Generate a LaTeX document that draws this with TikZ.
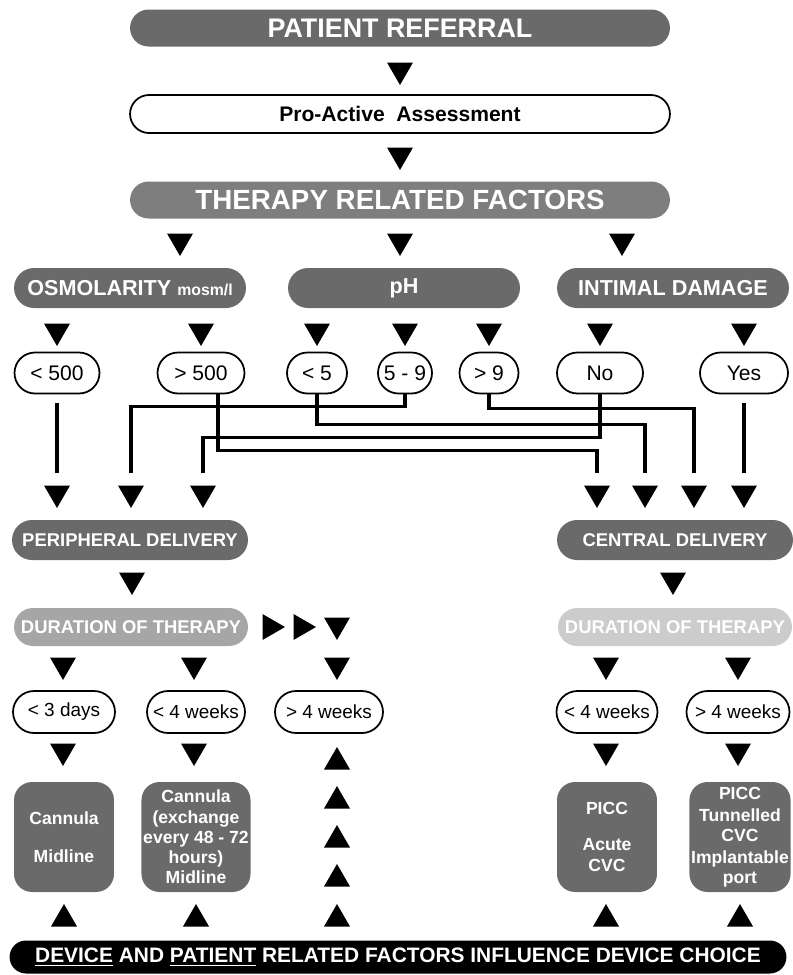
\documentclass[tikz,border=0pt]{standalone}
\usepackage{fontspec}
\setmainfont{Liberation Sans}
\usetikzlibrary{positioning,shapes.geometric,shapes.misc}
\definecolor{pfdark}{RGB}{106,106,106}
\definecolor{pfmid}{RGB}{126,126,126}
\definecolor{pflight}{RGB}{166,166,166}
\definecolor{pfpale}{RGB}{204,204,204}
\tikzset{
  pill/.style={rounded rectangle, inner sep=0pt, align=center},
  greybar/.style={pill, fill=#1, text=white},
  whitebar/.style={pill, draw=black, line width=1pt, fill=white},
  catbar/.style={greybar=pfdark, minimum width=4.64cm, minimum height=0.8cm,
    font=\bfseries\fontsize{12.3}{14}\selectfont},
  delbar/.style={greybar=pfdark, minimum width=4.72cm, minimum height=0.8cm,
    font=\bfseries\fontsize{10.5}{12}\selectfont},
  durbar/.style={greybar=#1, minimum width=4.68cm, minimum height=0.76cm,
    font=\bfseries\fontsize{10.5}{12}\selectfont},
  valbox/.style={whitebar, minimum height=0.82cm, font=\fontsize{12}{14}\selectfont},
  durbox/.style={whitebar, minimum height=0.84cm, font=\fontsize{10.8}{12}\selectfont},
  devbox/.style={rectangle, rounded corners=0.36cm, fill=pfdark, text=white,
    minimum width=2cm, minimum height=2.2cm, align=center, inner sep=1pt,
    font=\bfseries\fontsize{10}{11.5}\selectfont},
  tri/.style={regular polygon, regular polygon sides=3, fill=black,
    minimum size=0.6cm, inner sep=0pt, outer sep=0pt},
  tdn/.style={tri, shape border rotate=180},
  trt/.style={tri, shape border rotate=-90},
  link/.style={line width=2pt}
}

\begin{document}
\begin{tikzpicture}[x=0.02cm, y=-0.02cm]
    \useasboundingbox (0,0) rectangle (793,975);
    % referral, assessment, therapy factors
    \node[greybar=pfdark, minimum width=10.8cm, minimum height=0.74cm,
          font=\bfseries\fontsize{15.3}{18}\selectfont] (referral) at (400,28) {PATIENT REFERRAL};
    \node[tdn] (t1) at (400,70) {};
    \node[whitebar, minimum width=10.8cm, minimum height=0.76cm,
          font=\bfseries\fontsize{12}{14}\selectfont] (assess) at (400,114) {Pro-Active\ \ Assessment};
    \node[tdn] (t2) at (400,155) {};
    \node[greybar=pfmid, minimum width=10.8cm, minimum height=0.74cm,
          font=\bfseries\fontsize{15.8}{18}\selectfont] (therapy) at (400,200) {THERAPY RELATED FACTORS};
    \foreach \xx/\nm in {180/t3, 400/t4, 622/t5}
      \node[tdn] (\nm) at (\xx,241) {};
    % the three factors
    \node[catbar] (osmo) at (130,288) {OSMOLARITY {\fontsize{9}{10}\selectfont mosm/l}};
    \node[catbar] (ph) at (404,288) {pH};
    \node[catbar] (intimal) at (673,288) {INTIMAL DAMAGE};
    \foreach \xx/\nm in {57/s1, 201/s2, 317/s3, 405/s4, 489/s5, 600/s6, 744/s7}
      \node[tdn] (\nm) at (\xx,331) {};
    % values
    \node[valbox, minimum width=1.7cm]  (lt500) at (57,373)  {< 500};
    \node[valbox, minimum width=1.74cm] (gt500) at (201,373) {> 500};
    \node[valbox, minimum width=1.2cm]  (lt5)   at (317,373) {< 5};
    \node[valbox, minimum width=1.08cm] (r59)   at (405,373) {5 - 9};
    \node[valbox, minimum width=1.18cm] (gt9)   at (489,373) {> 9};
    \node[valbox, minimum width=1.72cm] (no)    at (600,373) {No};
    \node[valbox, minimum width=1.76cm] (yes)   at (744,373) {Yes};
    % arrows into the two deliveries
    \foreach \xx/\nm in {57/pa1, 131/pa2, 203/pa3}
      \node[tdn] (\nm) at (\xx,493) {};
    \foreach \xx/\nm in {597/pc1, 645/pc2, 694/pc3, 744/pc4}
      \node[tdn] (\nm) at (\xx,493) {};
    % crossing links
    \draw[link, shorten <=0.18cm, shorten >=0.26cm] (lt500.south) -- (pa1.north);
    \draw[link, shorten >=0.26cm] (r59.south) -- ++(0,12) -| (pa2.north);
    \draw[link, shorten >=0.26cm] (no.south) -- ++(0,43) -| (pa3.north);
    \draw[link, shorten >=0.26cm] ([xshift=0.34cm]gt500.south) -- ++(0,56) -| (pc1.north);
    \draw[link, shorten >=0.26cm] (lt5.south) -- ++(0,30) -| (pc2.north);
    \draw[link, shorten >=0.26cm] (gt9.south) -- ++(0,14) -| (pc3.north);
    \draw[link, shorten <=0.18cm, shorten >=0.26cm] (yes.south) -- (pc4.north);
    % deliveries and durations
    \node[delbar] (peri) at (130,540) {PERIPHERAL DELIVERY};
    \node[delbar] (central) at (675,540) {CENTRAL DELIVERY};
    \node[tdn] (pd) at (132,580) {};
    \node[tdn] (cd) at (673,580) {};
    \node[durbar=pflight] (pdur) at (131,627) {DURATION OF THERAPY};
    \node[durbar=pfpale] (cdur) at (675,627) {DURATION OF THERAPY};
    \node[trt] (r1) at (270,627) {};
    \node[trt] (r2) at (301,627) {};
    \node[tdn] (r3) at (337,625) {};
    \foreach \xx/\nm in {63/u1, 194/u2, 337/u3, 606/u4, 738/u5}
      \node[tdn] (\nm) at (\xx,665) {};
    \node[durbox, minimum width=2.04cm] (days3) at (64,712)  {< 3 days};
    \node[durbox, minimum width=1.96cm] (pwk4)  at (196,712) {< 4 weeks};
    \node[durbox, minimum width=2.16cm] (pwk4g) at (329,712) {> 4 weeks};
    \node[durbox, minimum width=2.02cm] (cwk4)  at (607,712) {< 4 weeks};
    \node[durbox, minimum width=2.06cm] (cwk4g) at (738,712) {> 4 weeks};
    \foreach \xx/\nm in {63/v1, 194/v2, 606/v4, 738/v5}
      \node[tdn] (\nm) at (\xx,751) {};
    \foreach \yy [count=\k] in {762,801,840,879}
      \node[tri] (up\k) at (337,\yy) {};
    % devices
    \node[devbox] (dev1) at (64,837)  {Cannula\\[10pt]Midline};
    \node[devbox] (dev2) at (196,837) {Cannula\\(exchange\\every 48 - 72\\hours)\\Midline};
    \node[devbox] (dev3) at (607,837) {PICC\\[9pt]Acute\\CVC};
    \node[devbox] (dev4) at (740,837) {PICC\\[1pt]Tunnelled\\CVC\\[1pt]Implantable\\port};
    \foreach \xx/\nm in {64/b1, 196/b2, 337/b3, 606/b4, 740/b5}
      \node[tri] (\nm) at (\xx,919) {};
    \node[pill, fill=black, text=white, minimum width=15.54cm, minimum height=0.66cm,
          font=\bfseries\fontsize{11.9}{13}\selectfont] (choice) at (398,957)
      {\underline{DEVICE} AND \underline{PATIENT} RELATED FACTORS INFLUENCE DEVICE CHOICE};
\end{tikzpicture}
\end{document}
